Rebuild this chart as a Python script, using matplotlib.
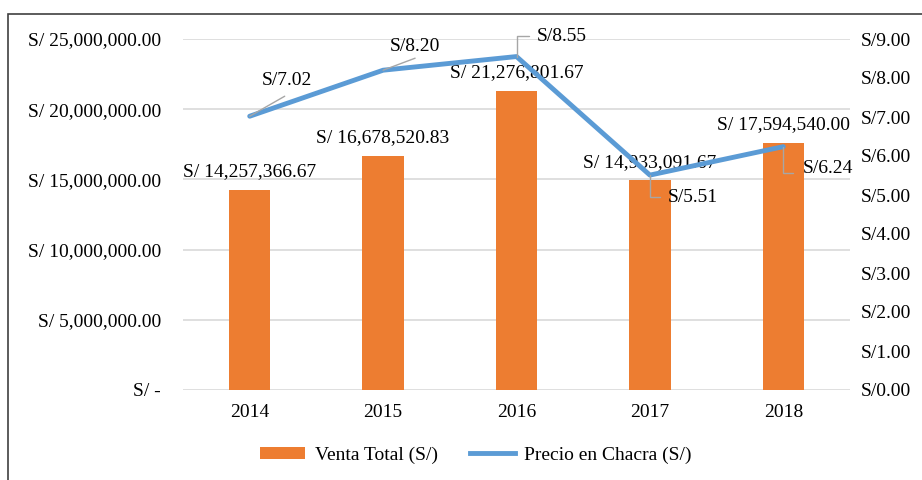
import matplotlib.pyplot as plt
from matplotlib.patches import Rectangle, Patch
from matplotlib.lines import Line2D
from matplotlib.ticker import FuncFormatter, MultipleLocator

plt.rcParams['font.family'] = ['Liberation Serif', 'DejaVu Serif']
plt.rcParams['font.size'] = 14

# Data
years = ['2014', '2015', '2016', '2017', '2018']
venta_total = [14257366.67, 16678520.83, 21276801.67, 14933091.67, 17594540.00]
precio_chacra = [7.02, 8.20, 8.55, 5.51, 6.24]

bar_color = '#ED7D31'
line_color = '#5B9BD5'
x = list(range(len(years)))

fig = plt.figure(figsize=(9.22, 4.8), dpi=100)
ax = fig.add_axes([183 / 922, 1 - 390 / 480, 667 / 922, 351 / 480])
ax2 = ax.twinx()

ax.bar(x, venta_total, width=0.31, color=bar_color, zorder=2)
ax.set_xlim(-0.5, 4.5)
ax.set_ylim(0, 25000000)
ax.yaxis.set_major_locator(MultipleLocator(5000000))
ax.yaxis.set_major_formatter(FuncFormatter(
    lambda v, p: 'S/ -' if v == 0 else f'S/ {v:,.2f}'))
ax.set_xticks(x)
ax.set_xticklabels(years)
ax.grid(axis='y', color='#D9D9D9', linewidth=1.2, zorder=0)
ax.set_axisbelow(True)
ax.tick_params(axis='x', length=0, pad=10)
ax.tick_params(axis='y', length=0, pad=16)
for s in ax.spines.values():
    s.set_visible(False)
for s in ax2.spines.values():
    s.set_visible(False)

ax2.plot(x, precio_chacra, color=line_color, linewidth=3.5, zorder=3,
         solid_capstyle='round')
ax2.set_ylim(0, 9)
ax2.yaxis.set_major_locator(MultipleLocator(1))
ax2.yaxis.set_major_formatter(FuncFormatter(lambda v, p: f'S/{v:.2f}'))
ax2.tick_params(axis='y', length=0, pad=8)

# bar value labels
for xi, v in zip(x, venta_total):
    ax.annotate(f'S/ {v:,.2f}', (xi, v), xytext=(0, 7),
                textcoords='offset points', ha='center', va='bottom')

# line value labels: leader end and text position, offsets in pixels
leader_end = [(35, 20), (32, 12), (12, 21), (10, -22), (10, -26)]
text_pos = [(37, 36), (32, 24), (20, 20), (18, -22), (19, -22)]
text_ha = ['center', 'center', 'left', 'left', 'left']
angled = [False, False, True, True, True]
px = 72 / 100
for xi, v, le, tp, ha, ang in zip(x, precio_chacra, leader_end, text_pos,
                                  text_ha, angled):
    ax2.annotate('', (xi, v), xytext=(le[0] * px, le[1] * px),
                 textcoords='offset points',
                 arrowprops=dict(arrowstyle='-', color='#A6A6A6', lw=1,
                                 shrinkA=0, shrinkB=0,
                                 connectionstyle='angle,angleA=0,angleB=90,rad=0'
                                 if ang else 'arc3'),
                 zorder=4)
    ax2.annotate(f'S/{v:.2f}', (xi, v), xytext=(tp[0] * px, tp[1] * px),
                 textcoords='offset points', ha=ha, va='center', zorder=4)

handles = [Patch(facecolor=bar_color, edgecolor='none'),
           Line2D([0], [0], color=line_color, linewidth=3.5)]
fig.legend(handles, ['Venta Total (S/)', 'Precio en Chacra (S/)'],
           loc='center', bbox_to_anchor=(476 / 922, 1 - 455 / 480), ncol=2,
           frameon=False, handlelength=2.3, handleheight=0.6,
           columnspacing=1.65, handletextpad=0.5)

# outer frame (partially cropped in the reference)
fig.patches.append(Rectangle((8 / 922, -0.1), 1.2, 1 - 14 / 480 + 0.1,
                             transform=fig.transFigure, fill=False,
                             edgecolor='#404040', linewidth=1.2))

fig.savefig('out.png', dpi=100)
